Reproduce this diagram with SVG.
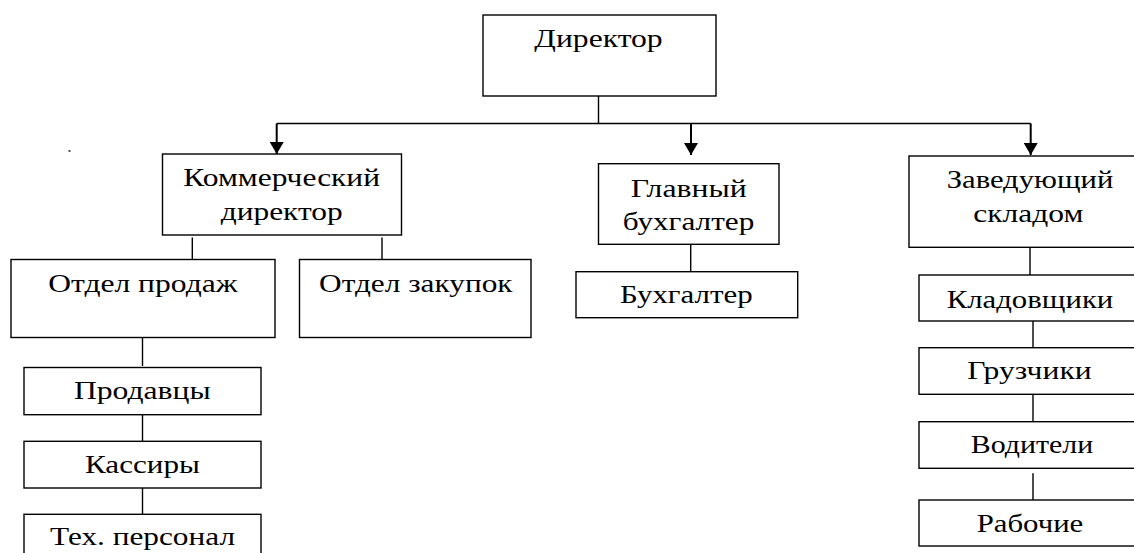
<svg xmlns="http://www.w3.org/2000/svg" width="1134" height="553" viewBox="0 0 1134 553">
<style>
.box{fill:#fff;stroke:#000;stroke-width:1.4}
.ln{stroke:#000;stroke-width:1.4;fill:none}
.ar{stroke:#000;stroke-width:2;fill:none}
.t{font-family:'Liberation Serif','Times New Roman',serif;font-size:26px;fill:#000;text-anchor:middle}
</style>
<defs>
<marker id="ah" markerWidth="12" markerHeight="14" refX="12" refY="7" orient="auto" markerUnits="userSpaceOnUse">
<path d="M0,0 L12,7 L0,14 z" fill="#000"/>
</marker>
</defs>
<rect width="1134" height="553" fill="#fff"/>
<rect x="68.5" y="150" width="2" height="2" fill="#555"/>
<g id="connectors">
<line class="ln" x1="598.5" y1="96" x2="598.5" y2="123.5"/>
<line class="ln" x1="276.7" y1="123.5" x2="1030.7" y2="123.5"/>
<line class="ar" x1="276.7" y1="123.5" x2="276.7" y2="154" marker-end="url(#ah)"/>
<line class="ar" x1="691" y1="123.5" x2="691" y2="155" marker-end="url(#ah)"/>
<line class="ar" x1="1030.7" y1="123.5" x2="1030.7" y2="155" marker-end="url(#ah)"/>
<line class="ln" x1="192.3" y1="237.5" x2="192.3" y2="259.5"/>
<line class="ln" x1="382" y1="237.5" x2="382" y2="259.5"/>
<line class="ln" x1="142.5" y1="337.5" x2="142.5" y2="366"/>
<line class="ln" x1="142.5" y1="414.7" x2="142.5" y2="441.3"/>
<line class="ln" x1="142.5" y1="488" x2="142.5" y2="514.3"/>
<line class="ln" x1="690.7" y1="244.3" x2="690.7" y2="271.7"/>
<line class="ln" x1="1030" y1="247.3" x2="1030" y2="275"/>
<line class="ln" x1="1033" y1="321" x2="1033" y2="347.7"/>
<line class="ln" x1="1033" y1="394.3" x2="1033" y2="421.7"/>
<line class="ln" x1="1033" y1="473.3" x2="1033" y2="500"/>
</g>
<g id="director">
<rect class="box" x="483" y="15" width="233" height="81"/>
<text class="t" x="598.5" y="46.7" textLength="128.4" lengthAdjust="spacingAndGlyphs">Директор</text>
</g>
<g id="commercial-director">
<rect class="box" x="162.5" y="154" width="239" height="81"/>
<text class="t" x="281.7" y="185.7" textLength="196.7" lengthAdjust="spacingAndGlyphs">Коммерческий</text>
<text class="t" x="281.7" y="220" textLength="122" lengthAdjust="spacingAndGlyphs">директор</text>
</g>
<g id="sales-dept">
<rect class="box" x="11" y="259.5" width="264" height="78"/>
<text class="t" x="142.9" y="291.7" textLength="189.3" lengthAdjust="spacingAndGlyphs">Отдел продаж</text>
</g>
<g id="purchase-dept">
<rect class="box" x="299.5" y="259.5" width="231.5" height="78"/>
<text class="t" x="415.8" y="291.7" textLength="193.5" lengthAdjust="spacingAndGlyphs">Отдел закупок</text>
</g>
<g id="sellers">
<rect class="box" x="24" y="367.5" width="237" height="47.2"/>
<text class="t" x="142.3" y="399.3" textLength="136.7" lengthAdjust="spacingAndGlyphs">Продавцы</text>
</g>
<g id="cashiers">
<rect class="box" x="24" y="441.3" width="237" height="46.7"/>
<text class="t" x="142.5" y="472.7" textLength="115" lengthAdjust="spacingAndGlyphs">Кассиры</text>
</g>
<g id="tech-staff">
<rect class="box" x="24" y="514.3" width="237" height="50"/>
<text class="t" x="142.5" y="545" textLength="185" lengthAdjust="spacingAndGlyphs">Тех. персонал</text>
</g>
<g id="chief-accountant">
<rect class="box" x="598.5" y="163.7" width="180.5" height="80.6"/>
<text class="t" x="688.7" y="196.7" textLength="116" lengthAdjust="spacingAndGlyphs">Главный</text>
<text class="t" x="688.5" y="230" textLength="131.6" lengthAdjust="spacingAndGlyphs">бухгалтер</text>
</g>
<g id="accountant">
<rect class="box" x="576" y="271.7" width="221.7" height="46"/>
<text class="t" x="686.3" y="303.3" textLength="132.7" lengthAdjust="spacingAndGlyphs">Бухгалтер</text>
</g>
<g id="warehouse-head">
<rect class="box" x="909" y="156" width="242" height="91.3"/>
<text class="t" x="1030" y="188.3" textLength="166.6" lengthAdjust="spacingAndGlyphs">Заведующий</text>
<text class="t" x="1028.3" y="221.7" textLength="110" lengthAdjust="spacingAndGlyphs">складом</text>
</g>
<g id="storekeepers">
<rect class="box" x="919" y="275" width="230" height="46"/>
<text class="t" x="1030" y="307.5" textLength="166.6" lengthAdjust="spacingAndGlyphs">Кладовщики</text>
</g>
<g id="loaders">
<rect class="box" x="919" y="347.7" width="230" height="46.6"/>
<text class="t" x="1029.5" y="379.3" textLength="124.4" lengthAdjust="spacingAndGlyphs">Грузчики</text>
</g>
<g id="drivers">
<rect class="box" x="919" y="421.7" width="230" height="46.6"/>
<text class="t" x="1032" y="452.7" textLength="122.6" lengthAdjust="spacingAndGlyphs">Водители</text>
</g>
<g id="workers">
<rect class="box" x="919" y="500" width="230" height="46"/>
<text class="t" x="1030" y="531.7" textLength="106.6" lengthAdjust="spacingAndGlyphs">Рабочие</text>
</g>
</svg>
